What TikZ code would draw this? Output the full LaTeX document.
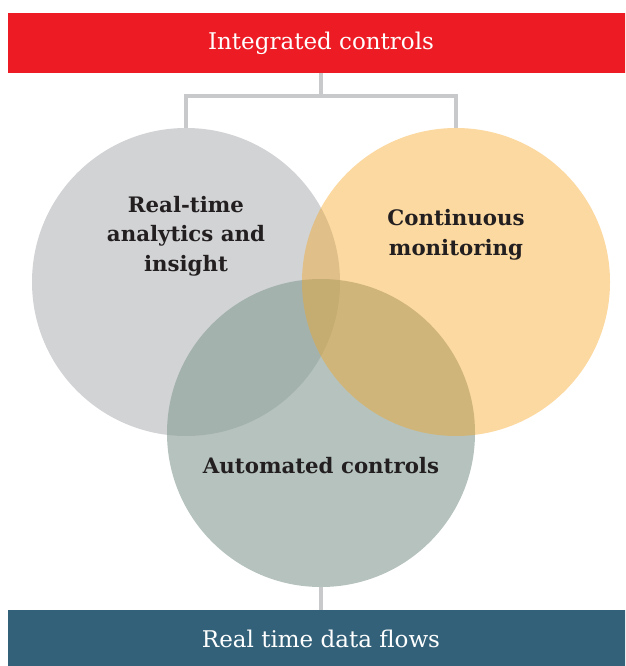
\documentclass[tikz,border=0pt]{standalone}
\usepackage{fontspec}
\setmainfont{DejaVu Serif}
\usetikzlibrary{positioning}

\definecolor{barred}{RGB}{237,28,36}
\definecolor{barblue}{RGB}{51,97,121}
\definecolor{linkgray}{RGB}{200,201,203}
\definecolor{greyc}{RGB}{210,211,213}
\definecolor{sagec}{RGB}{139,160,152}
\definecolor{amberc}{RGB}{245,164,31}
\definecolor{inkc}{RGB}{35,31,32}

\begin{document}
\begin{tikzpicture}[x=1pt, y=-1pt,
    bar/.style={minimum width=626pt, minimum height=60pt, inner sep=0pt,
        text=white, font=\fontsize{23}{26}\selectfont},
    blob/.style={circle, minimum size=308pt, inner sep=0pt},
    blobtext/.style={align=center, text=inkc,
        font=\bfseries\fontsize{21.3}{29.5}\selectfont},
    link/.style={draw=linkgray, line width=4pt, line join=miter}]

    \useasboundingbox (0,0) rectangle (625,666);
    \clip (0,0) rectangle (625,666);

    % Balkeliai
    \node[bar, fill=barred] (top) at (321,43) {Integrated controls};
    \node[bar, fill=barblue, minimum height=58pt] (flows) at (321,639) {Real time data flows};

    % Apskritimai
    \node[blob, fill=greyc] (rt) at (186,282) {};
    \node[blob, fill=sagec, fill opacity=0.64] (auto) at (321,433) {};
    \node[blob, fill=amberc, fill opacity=0.42] (cont) at (456,282) {};

    % Jungtys
    \coordinate (hub) at (321,96);
    \draw[link] (top.south) -- (hub);
    \draw[link] (rt.north) |- (hub) -| (cont.north);
    \draw[link] (auto.south) -- (flows.north);

    % Uzrasai
    \node[blobtext] (rtlabel) at (186,236) {Real-time\\analytics and\\insight};
    \node[blobtext] (contlabel) at (456,235) {Continuous\\monitoring};
    \node[blobtext] (autolabel) at (321,466) {Automated controls};
\end{tikzpicture}
\end{document}
